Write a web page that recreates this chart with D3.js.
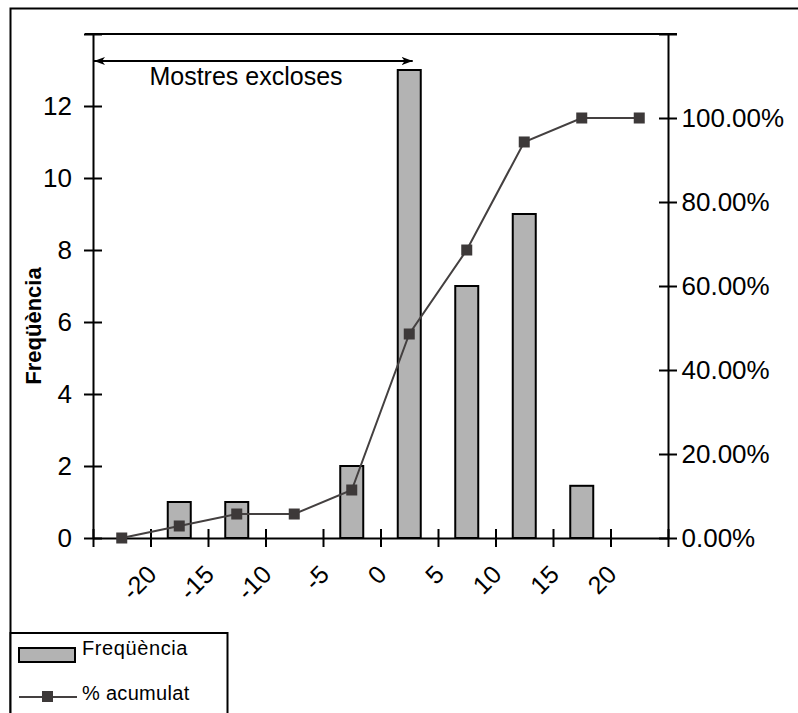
<!DOCTYPE html>
<html>
<head>
<meta charset="utf-8">
<script src="https://cdn.jsdelivr.net/npm/d3@7"></script>
<style>
  html, body { margin: 0; padding: 0; background: #fff; }
  svg { display: block; font-family: "Liberation Sans", Arial, sans-serif; }
</style>
</head>
<body>
<svg id="chart" width="798" height="713"></svg>
<script>
// Histogram bins (centres, width 5) and their counts
const binCenters = [-22.5, -17.5, -12.5, -7.5, -2.5, 2.5, 7.5, 12.5, 17.5, 22.5];
const frequency  = [0, 1, 1, 0, 2, 13, 7, 9, 1.45, 0];
// Cumulative percentage per bin
const cumulative = [0, 2.86, 5.71, 5.71, 11.43, 48.57, 68.57, 94.29, 100, 100];
// Axis ticks
const xTicks = [-25, -20, -15, -10, -5, 0, 5, 10, 15, 20, 25];
const xTickLabels = ["", "-20", "-15", "-10", "-5", "0", "5", "10", "15", "20", ""];
const yLeftTicks = [0, 2, 4, 6, 8, 10, 12, 14];
const yRightTicks = [0, 20, 40, 60, 80, 100, 120];

const svg = d3.select("#chart");
const FF = "Liberation Sans, Arial, sans-serif";

const plot = { left: 93, right: 668, top: 34, bottom: 538 };
const x = d3.scaleLinear().domain([-25, 25]).range([plot.left, plot.right]);
const yL = d3.scaleLinear().domain([0, 14]).range([plot.bottom, plot.top]);
const yR = d3.scaleLinear().domain([0, 120]).range([plot.bottom, plot.top]);

const FONT = 26;

// Outer chart border
svg.append("rect")
  .attr("x", 10.5).attr("y", 8.5)
  .attr("width", 800).attr("height", 720)
  .attr("fill", "none").attr("stroke", "#000").attr("stroke-width", 2);

// Top frame line of the plot area
svg.append("line")
  .attr("x1", plot.left - 8).attr("x2", plot.right + 9)
  .attr("y1", plot.top).attr("y2", plot.top)
  .attr("stroke", "#000").attr("stroke-width", 2);

// Bars
const binW = x(5) - x(0);
const barW = binW / 2.5;
svg.append("g").selectAll("rect")
  .data(binCenters.map((c, i) => ({ c, v: frequency[i] })).filter(d => d.v > 0))
  .join("rect")
  .attr("x", d => x(d.c) - barW / 2)
  .attr("y", d => yL(d.v))
  .attr("width", barW)
  .attr("height", d => yL(0) - yL(d.v))
  .attr("fill", "#b3b3b3")
  .attr("stroke", "#000")
  .attr("stroke-width", 2);

// Left axis
const gL = svg.append("g")
  .attr("transform", `translate(${plot.left},0)`)
  .call(d3.axisLeft(yL).tickValues(yLeftTicks)
    .tickFormat(d => d === 14 ? "" : d).tickSizeOuter(0).tickPadding(15));
gL.select(".domain").attr("stroke-width", 2);
gL.selectAll(".tick line").attr("x1", -9).attr("x2", 9).attr("stroke-width", 2);
gL.selectAll(".tick text").attr("font-size", FONT).attr("font-family", FF).attr("fill", "#000");

// Right axis
const gR = svg.append("g")
  .attr("transform", `translate(${plot.right},0)`)
  .call(d3.axisRight(yR).tickValues(yRightTicks)
    .tickFormat(d => d === 120 ? "" : d.toFixed(2) + "%").tickSizeOuter(0).tickPadding(7.5));
gR.select(".domain").attr("stroke-width", 2);
gR.selectAll(".tick line").attr("x1", -9).attr("x2", 9).attr("stroke-width", 2);
gR.selectAll(".tick text").attr("font-size", FONT).attr("font-family", FF).attr("fill", "#000");

// Bottom axis
const gX = svg.append("g")
  .attr("transform", `translate(0,${plot.bottom})`)
  .call(d3.axisBottom(x).tickValues(xTicks)
    .tickFormat((d, i) => xTickLabels[i]).tickSizeOuter(0));
gX.select(".domain").attr("stroke-width", 2);
gX.selectAll(".tick line").attr("y1", -9).attr("y2", 9).attr("stroke-width", 2);
gX.selectAll(".tick text")
  .attr("font-size", 25).attr("font-family", FF).attr("fill", "#000")
  .attr("text-anchor", "end")
  .attr("y", 0).attr("dy", 0)
  .attr("transform", "translate(7,38) rotate(-45)");

// Cumulative line
const line = d3.line().x((d, i) => x(binCenters[i])).y(d => yR(d));
svg.append("path")
  .datum(cumulative)
  .attr("d", line)
  .attr("fill", "none")
  .attr("stroke", "#444040")
  .attr("stroke-width", 2);
const MK = 11;
svg.append("g").selectAll("rect")
  .data(cumulative)
  .join("rect")
  .attr("x", (d, i) => x(binCenters[i]) - MK / 2)
  .attr("y", d => yR(d) - MK / 2)
  .attr("width", MK).attr("height", MK)
  .attr("fill", "#3d3939");

// Y axis title
svg.append("text")
  .attr("transform", "translate(41,326) rotate(-90)")
  .attr("text-anchor", "middle")
  .attr("font-size", 22)
  .attr("font-weight", "bold")
  .text("Freqüència");

// "Mostres excloses" annotation arrow
const defs = svg.append("defs");
defs.append("marker")
  .attr("id", "arrowhead")
  .attr("viewBox", "0 0 12 10")
  .attr("refX", 11).attr("refY", 5)
  .attr("markerWidth", 12).attr("markerHeight", 10)
  .attr("markerUnits", "userSpaceOnUse")
  .attr("orient", "auto-start-reverse")
  .append("path")
  .attr("d", "M0,1 L11,5 L0,9 L3,5 Z")
  .attr("fill", "#000");
svg.append("line")
  .attr("x1", x(-25) + 1).attr("x2", x(2.8))
  .attr("y1", 61).attr("y2", 61)
  .attr("stroke", "#000").attr("stroke-width", 2)
  .attr("marker-start", "url(#arrowhead)")
  .attr("marker-end", "url(#arrowhead)");
svg.append("text")
  .attr("x", 246).attr("y", 85)
  .attr("text-anchor", "middle")
  .attr("font-size", 25)
  .text("Mostres excloses");

// Legend
const lg = svg.append("g");
lg.append("rect")
  .attr("x", 10.5).attr("y", 633)
  .attr("width", 217).attr("height", 100)
  .attr("fill", "#fff").attr("stroke", "#000").attr("stroke-width", 2);
lg.append("rect")
  .attr("x", 19).attr("y", 648).attr("width", 56).attr("height", 14)
  .attr("fill", "#b3b3b3").attr("stroke", "#000").attr("stroke-width", 2);
lg.append("text")
  .attr("x", 82).attr("y", 655)
  .attr("font-size", 20).attr("letter-spacing", 0.6)
  .text("Freqüència");
lg.append("line")
  .attr("x1", 19).attr("x2", 77).attr("y1", 697).attr("y2", 697)
  .attr("stroke", "#444040").attr("stroke-width", 2);
lg.append("rect")
  .attr("x", 42).attr("y", 691).attr("width", 11).attr("height", 11)
  .attr("fill", "#3d3939");
lg.append("text")
  .attr("x", 82).attr("y", 700)
  .attr("font-size", 20).attr("letter-spacing", 0.3)
  .text("% acumulat");
</script>
</body>
</html>
